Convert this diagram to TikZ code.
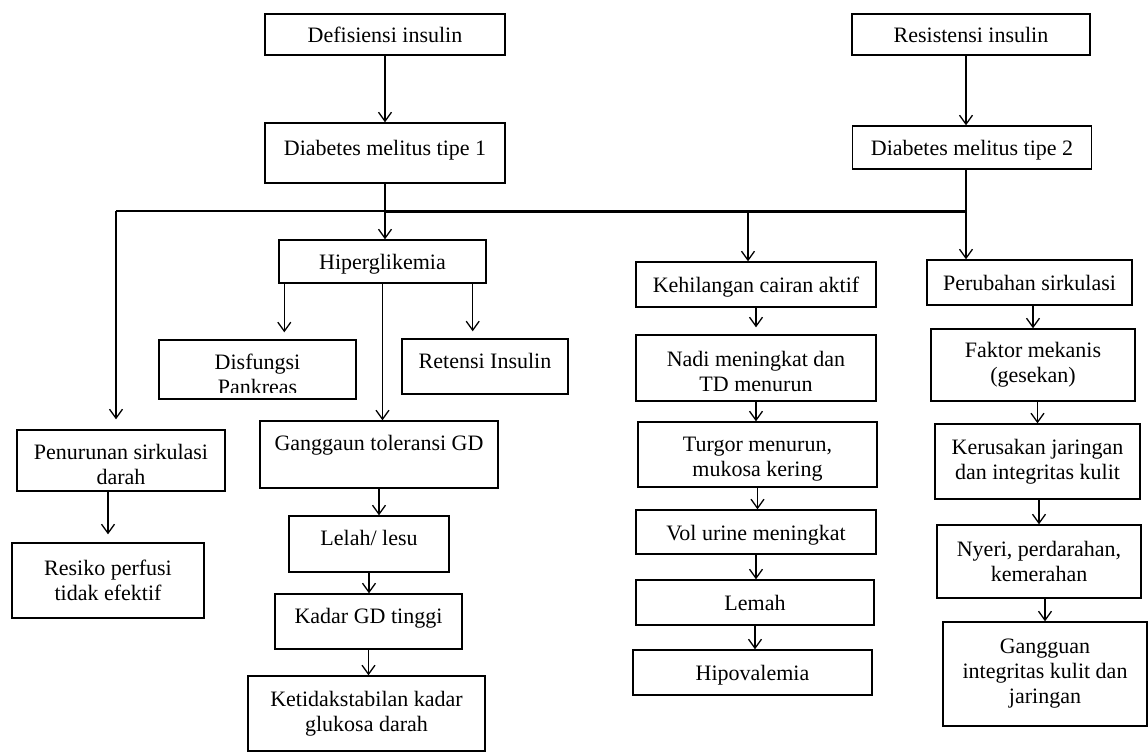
\documentclass[tikz,border=0pt]{standalone}
\usepackage{fontspec}
\setmainfont{Liberation Serif}
\usetikzlibrary{arrows.meta,positioning}
\tikzset{
  >={Straight Barb[length=9pt,width=13pt]},
  box/.style={draw,line width=1.4pt,align=center,inner sep=2pt,
    font=\fontsize{22}{25}\selectfont},
  boxsize/.style 2 args={minimum width=#1pt,minimum height=#2pt},
  one/.style={text height=21pt,text depth=#1},
  one/.default=5pt,
  low/.style={text height=#1},
  low/.default=48pt,
  flow/.style={->,line width=1.3pt},
}

\begin{document}
\begin{tikzpicture}[x=1pt,y=-1pt]
  \useasboundingbox (0,0) rectangle (1148,752);
  % causes
  \node[box,one,boxsize={240}{41}] (def) at (385,34.5) {Defisiensi insulin};
  \node[box,one,boxsize={238}{41}] (res) at (971,34.5) {Resistensi insulin};
  \node[box,one=17pt,boxsize={240}{60}] (dm1) at (385,153) {Diabetes melitus tipe 1};
  \node[box,one,boxsize={239}{43}] (dm2) at (972,147.5) {Diabetes melitus tipe 2};
  \coordinate (jl) at (116,211);
  \coordinate (jm) at (386,211);
  \coordinate (jk) at (748,211);
  \coordinate (jr) at (966,211);
  % second row
  \node[box,one,boxsize={207}{43}] (hip) at (382.5,261.5) {Hiperglikemia};
  \node[box,one,boxsize={240}{45}] (keh) at (756,284.5) {Kehilangan cairan aktif};
  \node[box,one,boxsize={205}{45}] (per) at (1029.5,282.5) {Perubahan sirkulasi};
  \node[box,low=51pt,boxsize={197}{59}] (disf) at (257.5,369.5) {Disfungsi\\Pankreas};
  \fill[white] ([shift={(1.6pt,1.6pt)}]disf.south west) rectangle ([shift={(-1.6pt,6.5pt)}]disf.south east);
  \node[box,one=18pt,boxsize={166}{55}] (ret) at (485,366.5) {Retensi Insulin};
  % left branches
  \node[box,low,boxsize={208}{61}] (pen) at (121,460.5) {Penurunan sirkulasi\\darah};
  \node[box,boxsize={192}{75}] (resiko) at (108,580.5) {Resiko perfusi\\tidak efektif};
  \node[box,one=29pt,boxsize={238}{67}] (gang) at (379,454.5) {Ganggaun toleransi GD};
  \node[box,one=19pt,boxsize={160}{56}] (lel) at (369,544) {Lelah/ lesu};
  \node[box,one=17pt,boxsize={187}{55}] (kad) at (368.5,621.5) {Kadar GD tinggi};
  \node[box,boxsize={237}{75}] (ket) at (366.5,713.5) {Ketidakstabilan kadar\\glukosa darah};
  % fluid loss
  \node[box,low,boxsize={240}{66}] (nadi) at (756,368) {Nadi meningkat dan\\TD menurun};
  \node[box,low,boxsize={239}{65}] (tur) at (757.5,454.5) {Turgor menurun,\\mukosa kering};
  \node[box,one,boxsize={240}{44}] (vol) at (756,532) {Vol urine meningkat};
  \node[box,one,boxsize={238}{45}] (lem) at (755,602.5) {Lemah};
  \node[box,one,boxsize={239}{45}] (hipo) at (752.5,672.5) {Hipovalemia};
  % circulation
  \node[box,boxsize={204}{72}] (fak) at (1033,365) {Faktor mekanis\\(gesekan)};
  \node[box,boxsize={205}{75}] (ker) at (1037.5,461.5) {Kerusakan jaringan\\dan integritas kulit};
  \node[box,boxsize={204}{73}] (nye) at (1039,561.5) {Nyeri, perdarahan,\\kemerahan};
  \node[box,boxsize={204}{104}] (gan) at (1045,674) {Gangguan\\integritas kulit dan\\jaringan};

  \draw[line width=1.6pt] (jl) -- (jm);
  \draw[line width=3pt] (jm) -- (jr);
  \draw[flow] (def) -- (dm1);
  \draw[flow] (res.south -| jr) -- (dm2.north -| jr);
  \draw[line width=1.3pt] (dm2.south -| jr) -- (jr);
  \draw[flow] (jr) -- (jr |- per.north);
  \draw[flow] (dm1.south) -- (dm1.south |- hip.north);
  \draw[flow] (jk) -- (jk |- keh.north);
  \draw[flow,shorten >=10pt] (jl) -- (jl |- pen.north);
  \draw[flow,shorten >=7pt] ([xshift=6pt]hip.south west) -- ([xshift=6pt]hip.south west |- disf.north);
  \draw[flow,shorten >=7pt] ([xshift=-14pt]hip.south east) -- ([xshift=-14pt]hip.south east |- ret.north);
  \draw[flow] (hip.south) -- (hip.south |- gang.north);
  \draw[flow,shorten >=8pt] (pen.south -| resiko) -- (resiko.north);
  \draw[flow] (gang.south) -- (gang.south |- lel.north);
  \draw[flow] (lel.south) -- (lel.south |- kad.north);
  \draw[flow] (kad.south) -- (kad.south |- ket.north);
  \draw[flow,shorten >=7pt] (keh.south) -- (keh.south |- nadi.north);
  \draw[flow] (nadi.south) -- (nadi.south |- tur.north);
  \draw[flow] (tur.south) -- (tur.south |- vol.north);
  \draw[flow] (vol.south) -- (vol.south |- lem.north);
  \draw[flow] (lem.south) -- (lem.south |- hipo.north);
  \draw[flow] (per.south -| fak) -- (fak.north);
  \draw[flow] (fak.south -| ker) -- (ker.north);
  \draw[flow] (ker.south -| nye) -- (nye.north);
  \draw[flow] (nye.south -| gan) -- (gan.north);
\end{tikzpicture}
\end{document}
